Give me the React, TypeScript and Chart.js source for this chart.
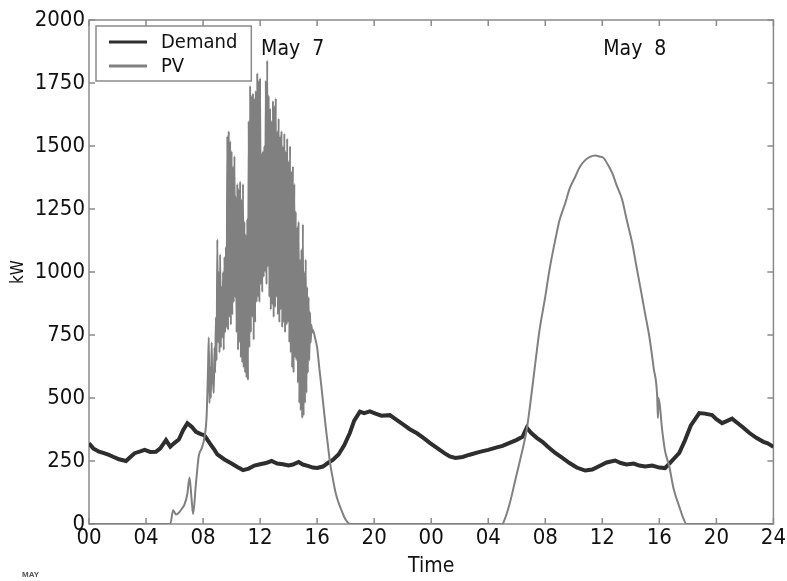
import React, { useEffect, useRef } from "react";
import { Chart, registerables } from "chart.js";

Chart.register(...registerables);

// ---- Data (hours since 00:00 May 7, kW) ----
const demandHours = [0, 0.3, 0.7, 1.0, 1.4, 1.8, 2.1, 2.6, 2.9, 3.2, 3.6, 3.9, 4.3, 4.7, 5.0, 5.4, 5.7, 6.0, 6.3, 6.6, 6.9, 7.2, 7.5, 7.8, 8.1, 8.5, 8.8, 9.0, 9.5, 10.0, 10.4, 10.8, 11.2, 11.6, 12.0, 12.4, 12.8, 13.2, 13.6, 14.0, 14.3, 14.7, 15.0, 15.4, 15.7, 16.0, 16.4, 16.8, 17.1, 17.5, 17.9, 18.3, 18.6, 19.0, 19.3, 19.7, 20.1, 20.5, 21.1, 21.5, 22.0, 22.5, 23.0, 23.5, 23.9, 24.4, 24.9, 25.3, 25.7, 26.2, 26.7, 27.4, 28.0, 28.6, 29.0, 29.5, 30.0, 30.4, 30.7, 31.0, 31.4, 31.8, 32.2, 32.7, 33.2, 33.7, 34.2, 34.8, 35.3, 35.8, 36.3, 36.9, 37.3, 37.7, 38.2, 38.6, 39.0, 39.5, 40.0, 40.4, 40.8, 41.4, 41.8, 42.2, 42.8, 43.2, 43.7, 44.0, 44.4, 44.8, 45.1, 45.5, 45.9, 46.3, 46.8, 47.3, 47.6, 48.0];
const demandKW = [320, 300, 287, 282, 274, 264, 257, 250, 266, 281, 288, 294, 286, 287, 300, 333, 307, 322, 335, 372, 400, 386, 366, 358, 352, 318, 294, 276, 256, 240, 226, 214, 220, 232, 237, 242, 250, 240, 237, 232, 236, 246, 236, 230, 224, 222, 228, 244, 254, 276, 312, 362, 410, 446, 440, 447, 438, 430, 432, 416, 396, 376, 360, 340, 322, 302, 282, 268, 262, 266, 275, 286, 294, 304, 310, 322, 334, 346, 382, 362, 342, 326, 306, 282, 262, 242, 224, 212, 216, 230, 244, 252, 242, 236, 240, 232, 228, 232, 224, 222, 246, 282, 332, 390, 440, 438, 432, 416, 400, 410, 418, 400, 382, 362, 342, 326, 320, 306];

// PV: early morning of May 7
const pvMorningHours = [0, 5.7, 5.9, 6.1, 6.3, 6.5, 6.7, 6.9, 7.05, 7.2, 7.3, 7.5, 7.7, 7.9, 8.1, 8.25, 8.35];
const pvMorningKW = [0, 0, 55, 38, 45, 60, 78, 120, 185, 95, 40, 160, 270, 300, 345, 430, 620];

// PV: fluctuating midday of May 7, sampled every 0.1 h from 8.4 h; high reading then low reading
const pvNoisyStart = 8.4;
const pvNoisyStep = 0.1;
const pvNoisyHigh = [740, 620, 720, 560, 700, 820, 1130, 1000, 1070, 940, 1000, 1060, 1100, 1540, 1560, 1520, 1480, 1420, 1460, 1300, 1350, 1330, 1360, 1290, 1350, 1200, 1150, 1210, 1600, 1740, 1700, 1710, 1690, 1720, 1790, 1760, 1770, 1470, 1480, 1500, 1760, 1840, 1700, 1650, 1600, 1680, 1660, 1690, 1560, 1610, 1540, 1560, 1500, 1550, 1480, 1530, 1440, 1500, 1400, 1420, 1350, 1240, 1180, 1200, 1050, 1090, 1190, 1000, 1050, 940, 900, 840, 790];
const pvNoisyLow = [480, 500, 560, 520, 600, 650, 720, 680, 700, 740, 690, 760, 780, 770, 820, 790, 830, 880, 900, 760, 690, 720, 660, 640, 620, 600, 580, 570, 700, 760, 820, 730, 800, 880, 900, 880, 950, 920, 980, 1000, 950, 1020, 900, 850, 870, 820, 860, 900, 830, 800, 850, 780, 800, 760, 790, 800, 720, 680, 620, 600, 660, 650, 560, 480, 450, 420, 430, 480, 520, 600, 650, 720, 760];

// PV: afternoon of May 7 through end of May 8
const pvLaterHours = [15.7, 15.85, 16.0, 16.15, 16.3, 16.45, 16.6, 16.75, 16.9, 17.1, 17.3, 17.5, 17.7, 17.9, 18.1, 18.3, 29.0, 29.1, 29.5, 29.9, 30.3, 30.7, 31.0, 31.3, 31.6, 32.0, 32.3, 32.7, 33.0, 33.4, 33.7, 34.1, 34.4, 34.8, 35.1, 35.5, 35.8, 36.1, 36.4, 36.7, 37.0, 37.4, 37.7, 38.1, 38.4, 38.7, 39.0, 39.3, 39.6, 39.85, 39.9, 39.95, 40.2, 40.4, 40.7, 41.0, 41.4, 41.7, 41.9, 48];
const pvLaterKW = [770, 740, 700, 620, 545, 465, 386, 315, 245, 180, 123, 85, 56, 28, 9, 0, 0, 10, 80, 175, 270, 375, 500, 638, 770, 902, 1010, 1127, 1205, 1273, 1330, 1378, 1415, 1444, 1456, 1462, 1458, 1452, 1425, 1392, 1345, 1286, 1210, 1114, 1020, 929, 835, 743, 620, 505, 420, 500, 372, 290, 227, 140, 69, 20, 0, 0];

const seriesNames = ["Demand", "PV"];
const seriesColors = ["#2e2e2e", "#808080"];
const yTicksStep = 250;
const xTickStep = 4;
const dayLabels = ["May  7", "May  8"];
const dayLabelHours = [12, 36];
const dayLabelKW = 1860;
const xAxisTitle = "Time";
const yAxisTitle = "kW";
const monthLabel = "MAY";

const FONT = '"DejaVu Sans Condensed", "DejaVu Sans", sans-serif';

function buildPV() {
  const pts: { x: number; y: number }[] = [];
  pvMorningHours.forEach((h, i) => pts.push({ x: h, y: pvMorningKW[i] }));
  pvNoisyHigh.forEach((v, i) => {
    const t = pvNoisyStart + i * pvNoisyStep;
    pts.push({ x: t, y: v });
    pts.push({ x: t + pvNoisyStep / 2, y: pvNoisyLow[i] });
  });
  pvLaterHours.forEach((h, i) => pts.push({ x: h, y: pvLaterKW[i] }));
  return pts;
}

const framePlugin = {
  id: "frameTicks",
  beforeDatasetsDraw(chart: any) {
    const { ctx, chartArea: a, scales } = chart;
    const x = scales.x;
    const y = scales.y;
    ctx.save();
    ctx.strokeStyle = "#8a8a8a";
    ctx.lineWidth = 1.5;
    ctx.strokeRect(a.left, a.top, a.right - a.left, a.bottom - a.top);
    const L = 6;
    ctx.beginPath();
    x.ticks.forEach((t: any) => {
      const px = x.getPixelForValue(t.value);
      ctx.moveTo(px, a.bottom);
      ctx.lineTo(px, a.bottom - L);
      ctx.moveTo(px, a.top);
      ctx.lineTo(px, a.top + L);
    });
    y.ticks.forEach((t: any) => {
      const py = y.getPixelForValue(t.value);
      ctx.moveTo(a.left, py);
      ctx.lineTo(a.left + L, py);
      ctx.moveTo(a.right, py);
      ctx.lineTo(a.right - L, py);
    });
    ctx.stroke();
    ctx.restore();
  },
};

const overlayPlugin = {
  id: "overlayText",
  afterDraw(chart: any) {
    const { ctx, chartArea: a, scales } = chart;
    const x = scales.x;
    const y = scales.y;
    ctx.save();
    // day annotations
    ctx.fillStyle = "#111";
    ctx.font = `21px ${FONT}`;
    ctx.textAlign = "left";
    ctx.textBaseline = "alphabetic";
    dayLabels.forEach((lbl, i) => {
      ctx.fillText(lbl, x.getPixelForValue(dayLabelHours[i]) + 1, y.getPixelForValue(dayLabelKW));
    });

    // legend box
    ctx.font = `20px ${FONT}`;
    const tw = Math.max(...seriesNames.map((n) => ctx.measureText(n).width));
    const bx = a.left + 7;
    const by = a.top + 6;
    const lineLen = 38;
    const bw = 13 + lineLen + 14 + tw + 14;
    const rowH = 24;
    const bh = 16 + rowH + 15;
    ctx.fillStyle = "#fff";
    ctx.fillRect(bx, by, bw, bh);
    ctx.strokeStyle = "#8a8a8a";
    ctx.lineWidth = 1.5;
    ctx.strokeRect(bx, by, bw, bh);
    ctx.textBaseline = "middle";
    seriesNames.forEach((n, i) => {
      const ry = by + 16 + i * rowH;
      ctx.strokeStyle = seriesColors[i];
      ctx.lineWidth = 3;
      ctx.beginPath();
      ctx.moveTo(bx + 13, ry);
      ctx.lineTo(bx + 13 + lineLen, ry);
      ctx.stroke();
      ctx.fillStyle = "#111";
      ctx.fillText(n, bx + 13 + lineLen + 14, ry + 1);
    });

    // month label under the first tick
    ctx.font = 'bold 8px "Liberation Sans", sans-serif';
    ctx.fillStyle = "#555";
    ctx.textBaseline = "middle";
    ctx.fillText(monthLabel, 22, 575);
    ctx.restore();
  },
};

export default function App() {
  const ref = useRef<HTMLCanvasElement>(null);
  useEffect(() => {
    const demandPts = demandHours.map((h, i) => ({ x: h, y: demandKW[i] }));
    const pvPts = buildPV();
    const chart = new Chart(ref.current as HTMLCanvasElement, {
      type: "line",
      data: {
        datasets: [
          {
            label: seriesNames[0],
            data: demandPts,
            borderColor: seriesColors[0],
            backgroundColor: seriesColors[0],
            borderWidth: 4,
            pointRadius: 0,
            tension: 0,
            order: 1,
          },
          {
            label: seriesNames[1],
            data: pvPts,
            borderColor: seriesColors[1],
            backgroundColor: seriesColors[1],
            borderWidth: 2,
            pointRadius: 0,
            cubicInterpolationMode: "monotone",
            order: 0,
          },
        ],
      },
      options: {
        animation: false,
        responsive: false,
        devicePixelRatio: 1,
        layout: { padding: { left: 0, top: 20, right: 12, bottom: 0 } },
        plugins: { legend: { display: false }, tooltip: { enabled: false } },
        scales: {
          x: {
            type: "linear",
            min: 0,
            max: 48,
            grid: { display: false, drawTicks: false },
            border: { display: false },
            ticks: {
              stepSize: xTickStep,
              autoSkip: false,
              maxRotation: 0,
              padding: 1,
              color: "#111",
              font: { family: FONT, size: 22 },
              callback: (v: any) => {
                const n = Number(v);
                if (n === 48) return "24";
                return String(n % 24).padStart(2, "0");
              },
            },
            title: {
              display: true,
              text: xAxisTitle,
              color: "#111",
              font: { family: FONT, size: 21 },
              padding: { top: 0, bottom: 2 },
            },
            afterFit: (s: any) => {
              s.height = 57;
            },
          },
          y: {
            min: 0,
            max: 2000,
            grid: { display: false, drawTicks: false },
            border: { display: false },
            ticks: {
              stepSize: yTicksStep,
              padding: 4,
              color: "#111",
              font: { family: FONT, size: 22 },
              callback: (v: any) => String(v),
            },
            title: {
              display: true,
              text: yAxisTitle,
              color: "#111",
              font: { family: FONT, size: 17 },
              padding: { top: 8, bottom: 0 },
            },
            afterFit: (s: any) => {
              s.width = 89;
            },
          },
        },
      },
      plugins: [framePlugin, overlayPlugin],
    } as any);
    return () => chart.destroy();
  }, []);
  return (
    <div style={{ position: "absolute", left: 0, top: 0, width: 787, height: 581, background: "#fff" }}>
      <canvas ref={ref} width={787} height={581} style={{ display: "block", width: 787, height: 581 }} />
    </div>
  );
}
